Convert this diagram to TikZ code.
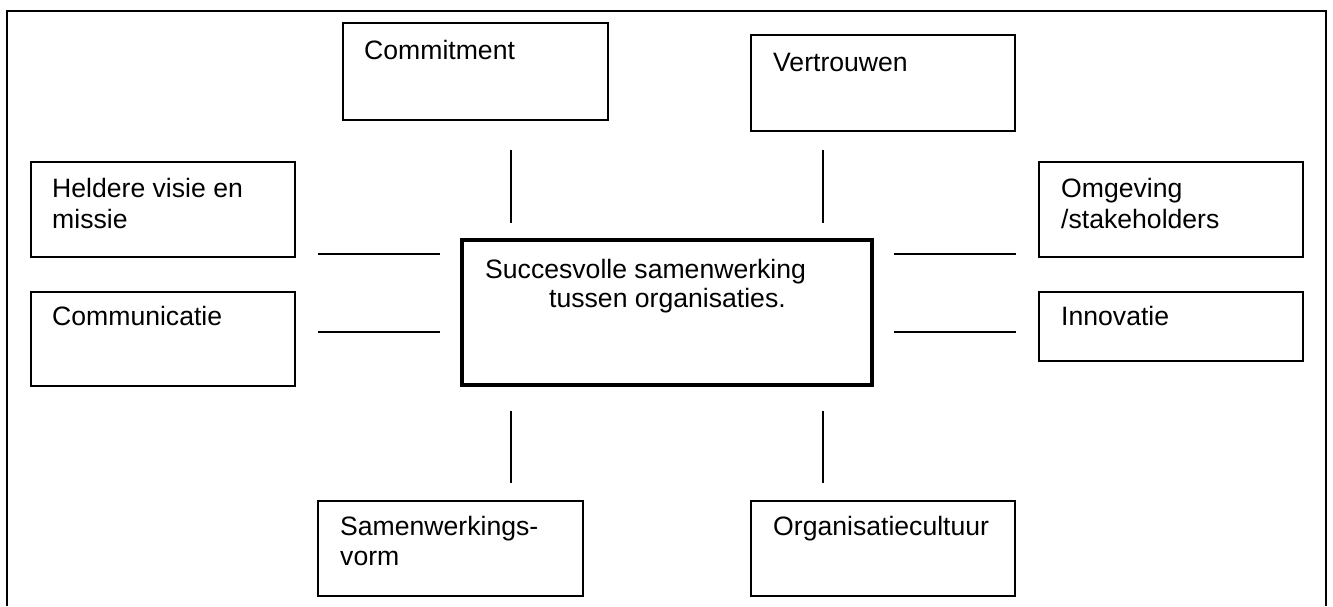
\documentclass[tikz,border=0pt]{standalone}
\usepackage{fontspec}
\setmainfont{Liberation Sans}
\begin{document}
\begin{tikzpicture}[x=1pt,y=-1pt,
  box/.style={draw, line width=2pt, rectangle, inner sep=0pt},
  mainbox/.style={draw, line width=4pt, rectangle, inner sep=0pt},
  txt/.style={inner sep=0pt, anchor=base west, font=\fontsize{26.6}{30.5}\selectfont},
  conn/.style={line width=2pt}]
\useasboundingbox (0,0) rectangle (1333,606);
\fill[white] (0,0) rectangle (1333,606);
% outer frame (bottom side lies outside the picture)
\draw[line width=2.5pt] (7,606) |- (1326,11) -- (1326,606);
% boxes
\node[box, minimum width=265pt, minimum height=97pt] (commit) at (475.5,71.5) {};
\node[box, minimum width=264pt, minimum height=96pt] (vertr) at (883,83) {};
\node[box, minimum width=264pt, minimum height=95pt] (visie) at (163,209.5) {};
\node[box, minimum width=264pt, minimum height=94pt] (comm) at (163,339) {};
\node[box, minimum width=264pt, minimum height=95pt] (omgev) at (1171,209.5) {};
\node[box, minimum width=264pt, minimum height=69pt] (innov) at (1171,326.5) {};
\node[mainbox, minimum width=410pt, minimum height=145pt] (center) at (667,312.5) {};
\node[box, minimum width=265pt, minimum height=95pt] (samen) at (450.5,548.5) {};
\node[box, minimum width=264pt, minimum height=95pt] (cult) at (883,548.5) {};
% texts
\node[txt] (tcommit) at (364,59) {Commitment};
\node[txt] (tvertr) at (773,71) {Vertrouwen};
\node[txt] (tvisie1) at (52,197) {Heldere visie en};
\node[txt] (tvisie2) at (52,228) {missie};
\node[txt] (tcomm) at (52,325) {Communicatie};
\node[txt] (tomgev1) at (1061,197) {Omgeving};
\node[txt] (tomgev2) at (1061,228) {/stakeholders};
\node[txt] (tinnov) at (1061,325) {Innovatie};
\node[txt] (tcenter1) at (485,278) {Succesvolle samenwerking};
\node[txt] (tcenter2) at (549,307) {tussen organisaties.};
\node[txt] (tsamen1) at (340,535) {Samenwerkings-};
\node[txt] (tsamen2) at (340,565) {vorm};
\node[txt] (tcult) at (773,535) {Organisatiecultuur};
% connector end points
\coordinate (c1a) at (511,150); \coordinate (c1b) at (511,223);
\coordinate (c2a) at (823,150); \coordinate (c2b) at (823,223);
\coordinate (c3a) at (511,411); \coordinate (c3b) at (511,483);
\coordinate (c4a) at (823,411); \coordinate (c4b) at (823,483);
\coordinate (c5a) at (318,254); \coordinate (c5b) at (440,254);
\coordinate (c6a) at (318,332); \coordinate (c6b) at (440,332);
\coordinate (c7a) at (894,254); \coordinate (c7b) at (1016,254);
\coordinate (c8a) at (894,332); \coordinate (c8b) at (1016,332);
\draw[conn] (c1a) -- (c1b);
\draw[conn] (c2a) -- (c2b);
\draw[conn] (c3a) -- (c3b);
\draw[conn] (c4a) -- (c4b);
\draw[conn] (c5a) -- (c5b);
\draw[conn] (c6a) -- (c6b);
\draw[conn] (c7a) -- (c7b);
\draw[conn] (c8a) -- (c8b);
\end{tikzpicture}
\end{document}
